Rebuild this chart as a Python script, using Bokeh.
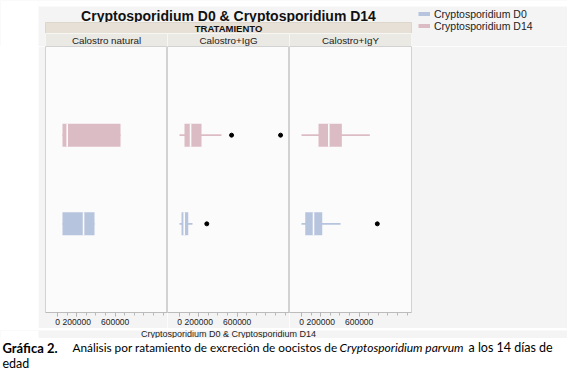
from bokeh.plotting import figure
from bokeh.layouts import column, row
from bokeh.models import Range1d, FactorRange, FixedTicker, Legend, LegendItem, Spacer
from bokeh.core.properties import value
from bokeh.embed import file_html
from bokeh.resources import INLINE

# ---------------- data ----------------
treatments = ["Calostro natural", "Calostro+IgG", "Calostro+IgY"]
series = ["Cryptosporidium D0", "Cryptosporidium D14"]
series_colors = ["#b6c4de", "#dcbcc4"]

d0_low = [52000, 0, 0]
d0_q1 = [52000, 21000, 39000]
d0_median = [271000, 49000, 125000]
d0_q3 = [385000, 91000, 216000]
d0_high = [385000, 135000, 406000]
d0_outliers = [[], [284000], [789000]]

d14_low = [52000, 0, 0]
d14_q1 = [52000, 52000, 177000]
d14_median = [101000, 115000, 284000]
d14_q3 = [656000, 229000, 420000]
d14_high = [656000, 437000, 711000]
d14_outliers = [[], [542000, 1052000], []]

tick_values = [0, 200000, 600000]
minor_tick_values = [0, 100000, 200000, 300000, 400000, 500000, 600000, 700000, 800000, 900000, 1000000, 1100000]
chart_title = "Cryptosporidium D0 & Cryptosporidium D14"
group_title = "TRATAMIENTO"
x_label = "Cryptosporidium D0 & Cryptosporidium D14"
caption_bold = "Gráfica 2."
caption_normal = "Análisis por ratamiento de  excreción de oocistos de"
caption_italic = "Cryptosporidium parvum"
caption_tail = "a los 14 días de"
caption_line2 = "edad"

stats = {
    series[0]: (d0_low, d0_q1, d0_median, d0_q3, d0_high, d0_outliers),
    series[1]: (d14_low, d14_q1, d14_median, d14_q3, d14_high, d14_outliers),
}

# ---------------- layout constants (page pixels) ----------------
FONT = "Liberation Sans"
OUTER_BG = "#f4f4f4"
FRAME_BG = "#fbfbfb"
W = 567
WHITE_L = 38
LEFT_PAD = 45
PANEL_W = 122
RIGHT_PAD = W - LEFT_PAD - 3 * PANEL_W
HEADER_H = 46
FRAME_H = 266
BELOW = 16
AXIS_TOP = HEADER_H + FRAME_H + BELOW      # 328
AXIS_H = 10
CAP_TOP = AXIS_TOP + AXIS_H                # 338
CAP_H = 372 - CAP_TOP
X_START, X_END = -125000, 1145000
BOX_H = 0.26

panel_lefts = [LEFT_PAD + i * PANEL_W for i in range(len(treatments))]
panel_rights = [l + PANEL_W for l in panel_lefts]
panel_centers = [(l + r) / 2 for l, r in zip(panel_lefts, panel_rights)]
all_center = (panel_lefts[0] + panel_rights[-1]) / 2


def blank(height, top, bg, white_left=False):
    f = figure(width=W, height=height, x_range=Range1d(0, W), y_range=Range1d(top + height, top),
               toolbar_location=None, output_backend="svg", min_border=0,
               x_axis_location=None, y_axis_location=None)
    f.grid.visible = False
    f.outline_line_color = None
    f.background_fill_color = bg
    f.border_fill_color = bg
    if white_left:
        f.quad(left=[0], right=[WHITE_L], top=[top], bottom=[top + height],
               fill_color="white", line_color=None)
    return f


# ---------------- header ----------------
hdr = blank(HEADER_H, 0, OUTER_BG, white_left=True)
hdr.quad(left=[WHITE_L], right=[W], top=[0], bottom=[6], fill_color="white", line_color=None)
hdr.text(x=[all_center], y=[15], text=[chart_title], text_font=value(FONT), text_font_style="bold",
         text_font_size="14px", text_align="center", text_baseline="middle", text_color="#111111")
hdr.quad(left=[panel_lefts[0]], right=[panel_rights[-1]], top=[22], bottom=[33],
         fill_color="#e6e0d6", line_color="#ddd6ca")
hdr.text(x=[all_center], y=[27.8], text=[group_title], text_font=value(FONT), text_font_style="bold",
         text_font_size="9.5px", text_align="center", text_baseline="middle", text_color="#111111")
hdr.quad(left=panel_lefts, right=panel_rights, top=[33] * 3, bottom=[46] * 3,
         fill_color="#ebe9e3", line_color="#f6f6f2")
hdr.text(x=panel_centers, y=[39.8] * 3, text=treatments, text_font=value(FONT),
         text_font_size="9.8px", text_align="center", text_baseline="middle", text_color="#222222")

legend_items = []
for s, c in zip(series, series_colors):
    r = hdr.line(x=[float("nan")], y=[float("nan")], line_color=c, line_width=4)
    legend_items.append(LegendItem(label=s, renderers=[r]))
legend = Legend(items=legend_items, location=(418, 14.5), orientation="vertical",
                label_text_font=FONT, label_text_font_size="10.5px", label_text_color="#222222",
                glyph_width=12, glyph_height=11, label_height=11, spacing=0, padding=0, margin=0,
                label_standoff=4, border_line_color=None, background_fill_alpha=0)
hdr.add_layout(legend)

# ---------------- panels ----------------
shared_x = Range1d(X_START, X_END)
panels = []
for i, t in enumerate(treatments):
    left = LEFT_PAD - WHITE_L if i == 0 else 0
    right = RIGHT_PAD if i == len(treatments) - 1 else 0
    p = figure(width=PANEL_W + left + right, height=FRAME_H + BELOW, x_range=shared_x,
               y_range=FactorRange(factors=series, range_padding=0.5),
               toolbar_location=None, output_backend="svg", y_axis_location=None,
               min_border_left=left, min_border_right=right, min_border_top=0, min_border_bottom=BELOW)
    p.background_fill_color = FRAME_BG
    p.border_fill_color = OUTER_BG
    p.outline_line_color = "#d2d2d2"
    p.grid.visible = False
    for s, c in zip(series, series_colors):
        low, q1, med, q3, high, outl = stats[s]
        p.segment(x0=[low[i]], x1=[high[i]], y0=[s], y1=[s], line_color=c, line_width=1.6)
        p.hbar(y=[s], left=[q1[i]], right=[q3[i]], height=BOX_H, fill_color=c, line_color=None)
        p.rect(x=[med[i]], y=[s], width=1.6, width_units="screen", height=BOX_H,
               fill_color=FRAME_BG, line_color=None)
        if outl[i]:
            p.scatter(x=outl[i], y=[s] * len(outl[i]), size=4, fill_color="black", line_color="black")
    ax = p.xaxis[0]
    ax.ticker = FixedTicker(ticks=tick_values, minor_ticks=minor_tick_values)
    ax.major_label_overrides = {v: str(v) for v in tick_values}
    ax.axis_line_color = "#bcbcbc"
    ax.major_tick_line_color = "#a8a8a8"
    ax.minor_tick_line_color = "#b8b8b8"
    ax.major_tick_out = 4
    ax.major_tick_in = 0
    ax.minor_tick_out = 3
    ax.minor_tick_in = 0
    ax.major_label_standoff = 2
    ax.major_label_text_font = FONT
    ax.major_label_text_font_size = "8.5px"
    ax.major_label_text_color = "#222222"
    panels.append(p)

left_white = Spacer(width=WHITE_L, height=FRAME_H + BELOW, styles={"background-color": "white"})

# ---------------- shared axis title ----------------
axf = blank(AXIS_H, AXIS_TOP, OUTER_BG, white_left=True)
axf.text(x=[panel_centers[1]], y=[AXIS_TOP + 3], text=[x_label], text_font=value(FONT),
         text_font_size="9px", text_align="center", text_baseline="middle", text_color="#222222")

# ---------------- caption ----------------
cap = blank(CAP_H, CAP_TOP, "white")
CF = "Lato"
line1 = 347
cap.text(x=[2], y=[line1], text=[caption_bold], text_font=value(CF), text_font_style="bold",
         text_font_size="13px", text_baseline="middle", text_color="black")
cap.text(x=[72], y=[line1], text=[caption_normal], text_font=value(CF),
         text_font_size="11.8px", text_baseline="middle", text_color="black")
cap.text(x=[339], y=[line1], text=[caption_italic], text_font=value(CF), text_font_style="italic",
         text_font_size="12px", text_baseline="middle", text_color="black")
cap.text(x=[468], y=[line1], text=[caption_tail], text_font=value(CF),
         text_font_size="12.5px", text_baseline="middle", text_color="black")
cap.text(x=[2], y=[363], text=[caption_line2], text_font=value(CF),
         text_font_size="12.5px", text_baseline="middle", text_color="black")

layout = column(hdr, row(left_white, *panels, spacing=0), axf, cap, spacing=0)
open("out.html", "w").write(file_html(layout, INLINE))
